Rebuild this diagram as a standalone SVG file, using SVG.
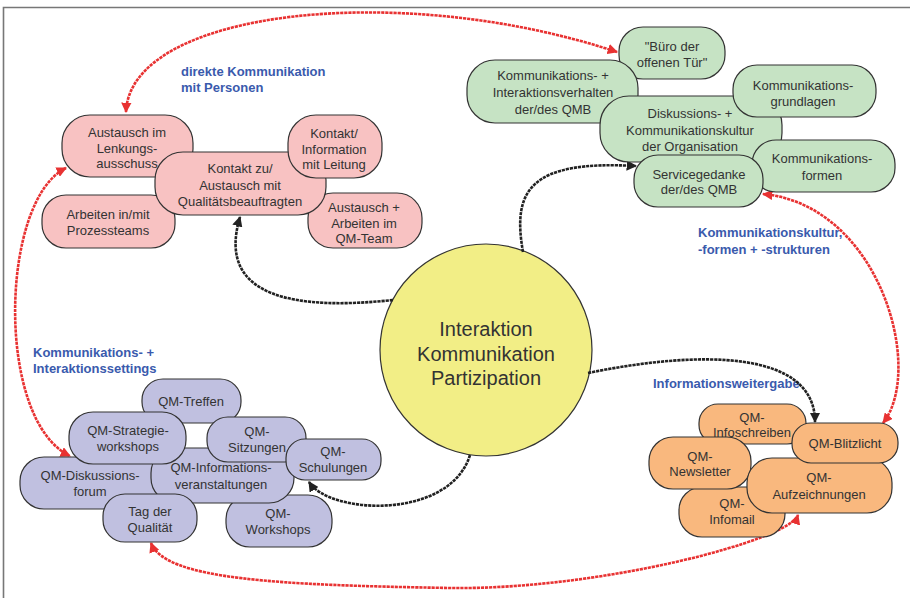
<svg xmlns="http://www.w3.org/2000/svg" width="910" height="598" viewBox="0 0 910 598">
<defs>
<style>
.n rect{stroke:#333;stroke-width:1.2}
.pink rect{fill:#f8c2c2}
.green rect{fill:#c6e3c4}
.purple rect{fill:#c0c0e0}
.orange rect{fill:#f9b87e}
.n text{font-family:"Liberation Sans",Arial,sans-serif;font-size:13px;fill:#333;text-anchor:middle}
.lbl{font-family:"Liberation Sans",Arial,sans-serif;font-size:13px;font-weight:bold;fill:#3a5aad}
.red{fill:none;stroke:#e83232;stroke-width:2.6;stroke-dasharray:3.2 0.9;marker-start:url(#ar);marker-end:url(#ar)}
.blk{fill:none;stroke:#222;stroke-width:2.6;stroke-dasharray:3.2 0.9;marker-end:url(#ab)}
</style>
<marker id="ar" viewBox="0 0 10 10" refX="9" refY="5" markerWidth="4" markerHeight="4" orient="auto-start-reverse" markerUnits="strokeWidth"><path d="M0,0 L10,5 L0,10 z" fill="#e83232"/></marker>
<marker id="ab" viewBox="0 0 10 10" refX="9" refY="5" markerWidth="4" markerHeight="4" orient="auto" markerUnits="strokeWidth"><path d="M0,0 L10,5 L0,10 z" fill="#222"/></marker>
</defs>
<rect width="910" height="598" fill="#fff"/>
<path d="M3.5,598 V7.5 H910" fill="none" stroke="#777" stroke-width="1.6"/>

<g id="center" class="n">
<circle cx="486" cy="350" r="106" fill="#f2ee86" stroke="#333" stroke-width="1.2"/>
<text x="486" y="336" style="font-size:20px">Interaktion</text>
<text x="486" y="361" style="font-size:20px">Kommunikation</text>
<text x="486" y="385" style="font-size:20px">Partizipation</text>
</g>

<g id="labels">
<text class="lbl" x="181" y="76">direkte Kommunikation</text>
<text class="lbl" x="181" y="92">mit Personen</text>
<text class="lbl" x="698" y="237">Kommunikationskultur,</text>
<text class="lbl" x="698" y="254">-formen + -strukturen</text>
<text class="lbl" x="33" y="357">Kommunikations- +</text>
<text class="lbl" x="33" y="373">Interaktionssettings</text>
<text class="lbl" x="653" y="388">Informationsweitergabe</text>
</g>

<g id="connectors">
<path class="red" d="M126,112 C130,10 400,-20 617,52"/>
<path class="red" d="M66,168 C0,200 -5,420 70,456"/>
<path class="red" d="M151,543 C165,580 280,585 450,588 C600,590 790,540 798,515"/>
<path class="red" d="M763,194 C880,205 925,370 883,423"/>
<path class="blk" d="M393,300 C300,310 215,300 240,217"/>
<path class="blk" d="M523,252 C512,190 530,160 636,166"/>
<path class="blk" d="M588,373 C700,350 815,350 815,422"/>
<path class="blk" d="M470,455 C450,520 330,515 309,482"/>
</g>

<g class="pink">
<g id="lenkung" class="n"><rect x="62" y="115" width="131" height="62" rx="28"/><text x="127" y="137">Austausch im</text><text x="127" y="152.5">Lenkungs-</text><text x="127" y="168">ausschuss</text></g>
<g id="prozessteams" class="n"><rect x="42" y="195" width="133" height="53" rx="24"/><text x="108" y="219">Arbeiten in/mit</text><text x="108" y="235">Prozessteams</text></g>
<g id="qmteam" class="n"><rect x="308" y="193" width="114" height="55" rx="25"/><text x="364" y="212">Austausch +</text><text x="364" y="227.5">Arbeiten im</text><text x="364" y="243">QM-Team</text></g>
<g id="qb" class="n"><rect x="155" y="152" width="171" height="63" rx="28"/><text x="240" y="173">Kontakt zu/</text><text x="240" y="190">Austausch mit</text><text x="240" y="206">Qualitätsbeauftragten</text></g>
<g id="leitung" class="n"><rect x="288" y="115" width="94" height="63" rx="28"/><text x="334" y="138">Kontakt/</text><text x="334" y="153.5">Information</text><text x="334" y="169">mit Leitung</text></g>
</g>

<g class="green">
<g id="buero" class="n"><rect x="619" y="27" width="106" height="52" rx="24"/><text x="672" y="51">"Büro der</text><text x="672" y="67">offenen Tür"</text></g>
<g id="verhalten" class="n"><rect x="467" y="60" width="171" height="63" rx="28"/><text x="553" y="79.5">Kommunikations- +</text><text x="553" y="96.5">Interaktionsverhalten</text><text x="553" y="113.5">der/des QMB</text></g>
<g id="kultur" class="n"><rect x="600" y="96" width="182" height="66" rx="29"/><text x="690" y="118">Diskussions- +</text><text x="690" y="134.5">Kommunikationskultur</text><text x="690" y="151">der Organisation</text></g>
<g id="grundlagen" class="n"><rect x="733" y="65" width="143" height="52" rx="24"/><text x="803" y="89.5">Kommunikations-</text><text x="803" y="105.5">grundlagen</text></g>
<g id="formen" class="n"><rect x="752" y="140" width="143" height="52" rx="24"/><text x="822" y="163">Kommunikations-</text><text x="822" y="180">formen</text></g>
<g id="service" class="n"><rect x="634" y="155" width="129" height="52" rx="24"/><text x="699" y="178.5">Servicegedanke</text><text x="699" y="194">der/des QMB</text></g>
</g>

<g class="purple">
<g id="treffen" class="n"><rect x="142" y="379" width="99" height="44" rx="21"/><text x="191" y="405.5">QM-Treffen</text></g>
<g id="forum" class="n"><rect x="20" y="457" width="150" height="52" rx="24"/><text x="90" y="480">QM-Diskussions-</text><text x="90" y="496">forum</text></g>
<g id="workshops" class="n"><rect x="226" y="495" width="106" height="52" rx="24"/><text x="278" y="518">QM-</text><text x="278" y="534">Workshops</text></g>
<g id="infoveranst" class="n"><rect x="151" y="448" width="143" height="55" rx="25"/><text x="221" y="472">QM-Informations-</text><text x="221" y="489">veranstaltungen</text></g>
<g id="strategie" class="n"><rect x="69" y="412" width="117" height="52" rx="24"/><text x="128" y="435">QM-Strategie-</text><text x="128" y="451">workshops</text></g>
<g id="sitzungen" class="n"><rect x="207" y="417" width="99" height="45" rx="21"/><text x="257" y="436">QM-</text><text x="257" y="452">Sitzungen</text></g>
<g id="schulungen" class="n"><rect x="286" y="439" width="95" height="41" rx="19"/><text x="333" y="456">QM-</text><text x="333" y="472">Schulungen</text></g>
<g id="tag" class="n"><rect x="103" y="494" width="94" height="48" rx="22"/><text x="150" y="516">Tag der</text><text x="150" y="531.5">Qualität</text></g>
</g>

<g class="orange">
<g id="infoschreiben" class="n"><rect x="699" y="404" width="107" height="40" rx="19"/><text x="752" y="422">QM-</text><text x="752" y="437">Infoschreiben</text></g>
<g id="infomail" class="n"><rect x="679" y="487" width="106" height="50" rx="23"/><text x="732" y="508">QM-</text><text x="732" y="524">Infomail</text></g>
<g id="newsletter" class="n"><rect x="649" y="437" width="102" height="52" rx="24"/><text x="700" y="460.5">QM-</text><text x="700" y="476">Newsletter</text></g>
<g id="aufzeichnungen" class="n"><rect x="747" y="458" width="145" height="55" rx="25"/><text x="819" y="482">QM-</text><text x="819" y="498.5">Aufzeichnungen</text></g>
<g id="blitzlicht" class="n"><rect x="792" y="423" width="106" height="40" rx="19"/><text x="845" y="448">QM-Blitzlicht</text></g>
</g>
</svg>
